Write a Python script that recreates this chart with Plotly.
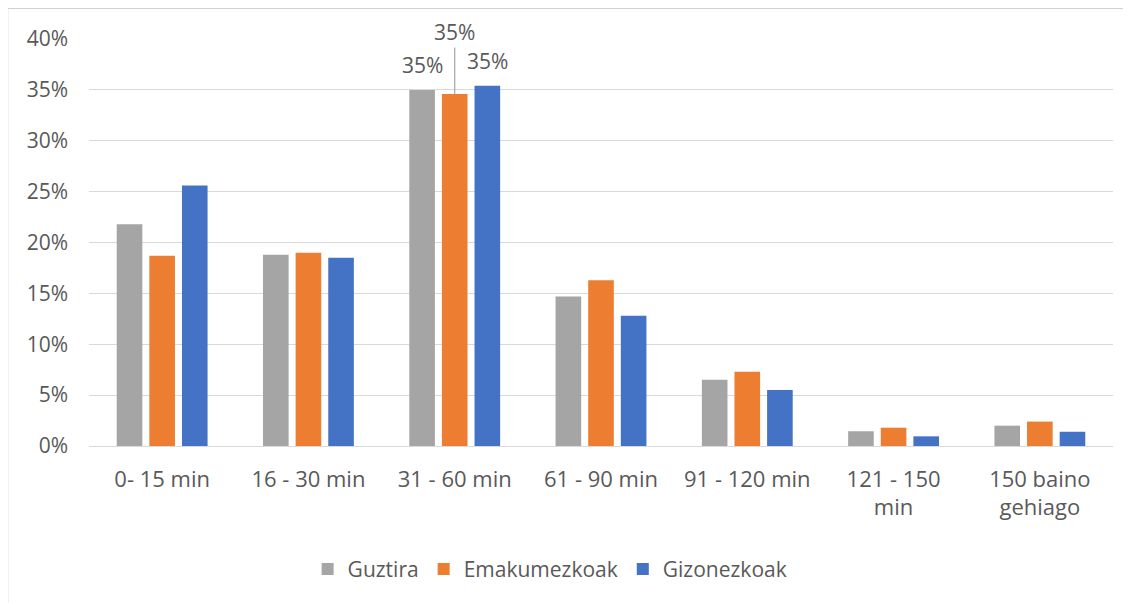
import plotly.graph_objects as go

categories = ["0- 15 min", "16 - 30 min", "31 - 60 min", "61 - 90 min",
              "91 - 120 min", "121 - 150<br>min", "150 baino<br>gehiago"]
guztira = [0.218, 0.188, 0.350, 0.147, 0.065, 0.0145, 0.020]
emakumezkoak = [0.187, 0.190, 0.346, 0.163, 0.073, 0.018, 0.024]
gizonezkoak = [0.256, 0.185, 0.354, 0.128, 0.055, 0.0095, 0.014]
series_names = ["Guztira", "Emakumezkoak", "Gizonezkoak"]
colors = ["#A5A5A5", "#ED7D31", "#4472C4"]
y_ticks = [0, 0.05, 0.10, 0.15, 0.20, 0.25, 0.30, 0.35, 0.40]
labelled_category = "31 - 60 min"

FONT = "Open Sans"
TXT = "#595959"
GRID = "#D9D9D9"

fig = go.Figure()
for name, vals, col in zip(series_names, [guztira, emakumezkoak, gizonezkoak], colors):
    fig.add_trace(go.Bar(x=categories, y=vals, name=name, marker=dict(color=col, line=dict(width=0))))

# data labels for the 31-60 group
idx = categories.index(labelled_category)
slot = 1024 / 7 * (1 - 0.331) / 3
offsets = [-slot, 0, slot]
for k, vals in enumerate([guztira, emakumezkoak, gizonezkoak]):
    v = vals[idx]
    txt = f"{round(v * 100):.0f}%"
    if k == 1:
        fig.add_annotation(x=labelled_category, y=v, xref="x", yref="y", text=txt,
                           xshift=offsets[k], showarrow=True, arrowhead=0, arrowwidth=1.2,
                           arrowcolor="#A6A6A6", ax=0, ay=-62, standoff=0, startstandoff=0,
                           font=dict(family=FONT, size=21, color=TXT))
    else:
        fig.add_annotation(x=labelled_category, y=v, xref="x", yref="y", text=txt,
                           xshift=offsets[k], yshift=25, showarrow=False, yanchor="middle",
                           font=dict(family=FONT, size=21, color=TXT))

fig.update_layout(
    width=1131, height=603,
    margin=dict(l=81, r=26, t=31, b=165, pad=0),
    paper_bgcolor="white", plot_bgcolor="white",
    barmode="group", bargap=0.331, bargroupgap=0.215,
    font=dict(family=FONT, size=21, color=TXT),
    showlegend=True,
    legend=dict(orientation="h", x=0.2135, xanchor="left", y=-0.303, yanchor="middle",
                font=dict(family=FONT, size=21, color=TXT), bgcolor="rgba(0,0,0,0)",
                itemclick=False),
    shapes=[dict(type="rect", xref="paper", yref="paper", x0=-0.0796, x1=1.2,
                 y0=-0.6, y1=1.0754, line=dict(color="#D0D0D0", width=1.6), layer="below")],
)
fig.update_yaxes(range=[0, 0.40], tickvals=y_ticks, tickformat=".0%",
                 showgrid=True, gridcolor=GRID, gridwidth=1.3, zeroline=False,
                 showline=False, ticks="", ticklabelstandoff=20,
                 tickfont=dict(family=FONT, size=21, color=TXT))
fig.update_xaxes(showgrid=False, showline=True, linecolor=GRID, linewidth=1.3,
                 ticks="", ticklabelstandoff=13,
                 tickfont=dict(family=FONT, size=22, color=TXT))

fig.write_html("out.html")
